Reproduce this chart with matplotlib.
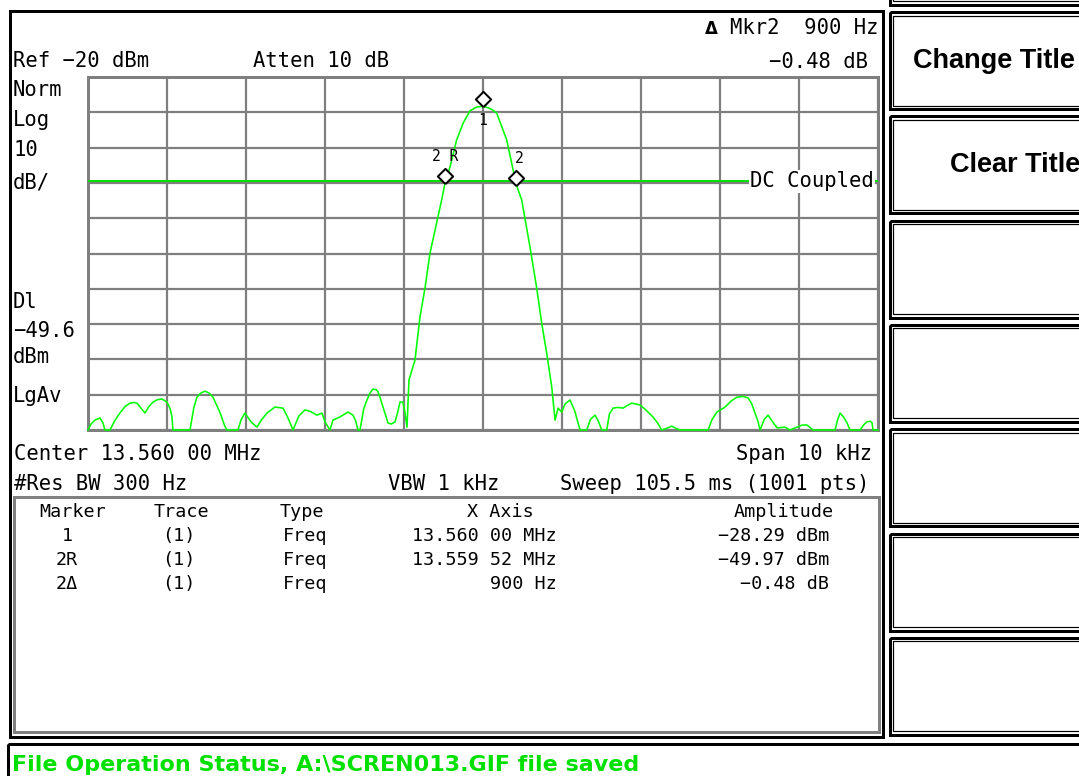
import numpy as np
import matplotlib
matplotlib.use('Agg')
import matplotlib.pyplot as plt
from matplotlib.patches import Rectangle
from matplotlib import transforms

# swept trace: offset from centre (Hz) and level (dBm)
freq_offset = [-5000, -4962, -4912, -4849, -4811, -4785, -4722, -4660, -4596, -4530,
               -4469, -4420, -4380, -4330, -4279, -4230, -4178, -4120, -4064, -4000,
               -3960, -3937, -3925, -3709, -3660, -3621, -3570, -3519, -3470, -3418,
               -3330, -3270, -3241, -3102, -3060, -3013, -2940, -2861, -2800, -2735,
               -2633, -2532, -2470, -2405, -2330, -2253, -2180, -2102, -2038, -2000,
               -1937, -1899, -1810, -1709, -1646, -1610, -1582, -1557, -1510, -1469,
               -1430, -1393, -1350, -1329, -1300, -1266, -1230, -1203, -1160, -1114,
               -1080, -1051, -1013, -987, -962, -937, -861, -798, -734, -671,
               -523, -480, -418, -333, -250, -165, -80, 0, 63, 120,
               173, 300, 420, 490, 595, 680, 743, 806, 870, 912,
               950, 996, 1040, 1101, 1160, 1228, 1313, 1360, 1418, 1460,
               1503, 1566, 1600, 1646, 1710, 1772, 1830, 1883, 1988, 2070,
               2152, 2210, 2262, 2330, 2389, 2440, 2494, 2849, 2900, 2962,
               3064, 3140, 3216, 3290, 3355, 3400, 3444, 3480, 3507, 3560,
               3608, 3660, 3722, 3823, 3887, 3975, 4040, 4102, 4178, 4456,
               4490, 4520, 4570, 4608, 4646, 4773, 4820, 4861, 4900, 4925,
               4937, 5000]
level = [-120, -118.3, -117.2, -116.6, -118.0, -120, -120, -117.3, -115.2, -113.3,
         -112.4, -112.2, -112.4, -113.8, -115.2, -113.4, -112.1, -111.4, -111.2, -112.1,
         -114.0, -116.3, -120, -120, -113.6, -110.7, -109.5, -109.0, -109.5, -110.7,
         -115.0, -118.8, -120, -120, -117.0, -115.2, -117.6, -119.2, -117.0, -115.2,
         -113.5, -113.8, -116.5, -120, -116.0, -114.3, -114.8, -115.8, -115.2, -117.7,
         -120, -117.2, -116.3, -114.9, -115.8, -117.5, -120, -120, -114.0, -111.5,
         -109.5, -108.4, -108.6, -109.2, -111.0, -113.5, -116.0, -118.0, -118.3, -117.7,
         -115.0, -112.1, -112.1, -115.2, -119.2, -105.8, -100.2, -88.0, -79.8, -69.9,
         -54.8, -50.0, -45.5, -37.8, -33.0, -29.6, -28.5, -28.3, -28.7, -29.3,
         -30.2, -37.8, -50.45, -54.8, -68.2, -79.8, -89.7, -98.2, -107.8, -117.2,
         -113.8, -114.9, -112.6, -111.5, -114.5, -120, -120, -117.0, -115.8, -117.5,
         -120, -120, -115.5, -113.8, -113.6, -113.8, -113.0, -112.4, -112.9, -114.5,
         -116.3, -118.0, -120, -119.5, -118.9, -119.5, -120, -120, -117.0, -114.9,
         -113.5, -111.8, -110.7, -110.5, -110.9, -112.5, -115.2, -117.5, -120, -117.0,
         -115.8, -117.5, -119.4, -119.2, -120, -119.2, -118.6, -118.6, -120, -120,
         -117.0, -115.2, -116.5, -118.0, -120, -120, -118.5, -117.7, -117.5, -118.0,
         -120, -120]

span_hz = 10000
ref_level = -20
db_per_div = 10
display_line = -49.6

marker_names = ['1', '2 R', '2']
marker_freq = [0, -480, 420]
marker_level = [-28.29, -49.97, -50.45]

table_header = ['Marker', 'Trace', 'Type', 'X Axis', 'Amplitude']
table_marker = ['1', '2R', '2\u0394']
table_trace = ['(1)', '(1)', '(1)']
table_type = ['Freq', 'Freq', 'Freq']
table_x = ['13.560 00 MHz', '13.559 52 MHz', '900 Hz']
table_amp = ['\u221228.29 dBm', '\u221249.97 dBm', '\u22120.48 dB']

softkeys = ['', 'Change Title', 'Clear Title', '', '', '', '', '']

W, H = 1079, 776
fig = plt.figure(figsize=(W / 100, H / 100), dpi=100)
fig.patch.set_facecolor('white')

# pixel-space layer for frames and annotation text
ov = fig.add_axes([0, 0, 1, 1])
ov.set_xlim(0, W)
ov.set_ylim(H, 0)
ov.axis('off')

mono = 'DejaVu Sans Mono'
big = 14.8
small = 13.2
px = 0.72  # points per pixel at 100 dpi

# outer frames
ov.add_patch(Rectangle((9.5, 11), 873, 726, fill=False, ec='black', lw=3 * px))
ov.add_patch(Rectangle((13.5, 496.5), 865, 235, fill=False, ec='#808080', lw=3 * px))
ov.add_patch(Rectangle((7.5, 743.5), 1100, 60, fill=False, ec='black', lw=3 * px))

# softkey column
for i, label in enumerate(softkeys):
    top = 12 + 104.3 * (i - 1)
    ov.add_patch(Rectangle((889.5, top), 260, 97, fill=False, ec='black', lw=3 * px))
    ov.add_patch(Rectangle((893, top + 3.5), 252, 90, fill=False, ec='black', lw=1.2 * px))
softkey_x = {'Change Title': 994, 'Clear Title': 1015}
for i, label in enumerate(softkeys):
    if label:
        top = 12 + 104.3 * (i - 1)
        ov.text(softkey_x[label], top + 49, label, ha='center', va='center',
                fontsize=19.5, fontweight='bold', family='Liberation Sans')

def t(x, y, s, ha='left', size=big, **kw):
    ov.text(x, y, s, ha=ha, va='baseline', fontsize=size, family=mono, **kw)

# header lines
t(13, 67, 'Ref \u221220 dBm')
t(253, 67, 'Atten 10 dB')
ov.text(711, 34, '\u0394', ha='center', va='baseline', fontsize=12, fontweight='bold',
        family='DejaVu Sans')
t(878, 34, 'Mkr2  900 Hz', ha='right')
t(868, 68, '\u22120.48 dB', ha='right')

# left annotation column
for y, s in [(96, 'Norm'), (126, 'Log'), (156, '10'), (188, 'dB/'),
             (308, 'Dl'), (337, '\u221249.6'), (363, 'dBm'), (402, 'LgAv')]:
    t(13, y, s)

t(14, 460, 'Center 13.560 00 MHz')
t(872, 460, 'Span 10 kHz', ha='right')
t(14, 490, '#Res BW 300 Hz')
t(388, 490, 'VBW 1 kHz')
t(869, 490, 'Sweep 105.5 ms (1001 pts)', ha='right')

# marker table
t(73, 517, table_header[0], ha='center', size=small)
t(181, 517, table_header[1], ha='center', size=small)
t(302, 517, table_header[2], ha='center', size=small)
t(500, 517, table_header[3], ha='center', size=small)
t(784, 517, table_header[4], ha='center', size=small)
for row, yb in enumerate([541, 565, 589]):
    t(67, yb, table_marker[row], ha='center', size=small)
    t(179, yb, table_trace[row], ha='center', size=small)
    t(305, yb, table_type[row], ha='center', size=small)
    t(557, yb, table_x[row], ha='right', size=small)
    t(829, yb, table_amp[row], ha='right', size=small)

ov.text(12, 771, 'File Operation Status, A:\\SCREN013.GIF file saved', ha='left',
        va='baseline', fontsize=16, fontweight='bold', family='DejaVu Sans',
        color='#00e000')

# graticule
ax = fig.add_axes([88 / W, 1 - 430 / H, 790 / W, 353 / H])
ax.set_facecolor('none')
ax.set_xlim(-span_hz / 2, span_hz / 2)
ax.set_ylim(ref_level - 10 * db_per_div, ref_level)
ax.set_xticks(np.linspace(-span_hz / 2, span_hz / 2, 11))
ax.set_yticks(np.arange(ref_level - 10 * db_per_div, ref_level + 1, db_per_div))
ax.tick_params(length=0, labelbottom=False, labelleft=False)
ax.grid(True, color='#7f7f7f', lw=2.2 * px)
for sp in ax.spines.values():
    sp.set_color('#7f7f7f')
    sp.set_linewidth(3 * px)

ax.axhline(display_line, color='#00e000', lw=2 * px, zorder=3)
ax.plot(freq_offset, level, color='#00ff00', lw=1.6 * px, zorder=4, clip_on=False)

ax.text(0.995, (display_line - ax.get_ylim()[0]) / (10 * db_per_div), 'DC Coupled',
        transform=ax.transAxes, ha='right', va='center', fontsize=big, family=mono,
        bbox=dict(facecolor='white', edgecolor='none', pad=1), zorder=5)

# marker diamonds sit on top of the trace point
diamond = [(0, -1), (1, 0), (0, 1), (-1, 0), (0, -1)]
lifted = transforms.offset_copy(ax.transData, fig=fig, y=5, units='points')
ax.plot(marker_freq, marker_level, ls='none', marker=diamond, ms=11, mfc='white',
        mec='black', mew=2 * px, transform=lifted, zorder=6, clip_on=False)
label_offsets = [(0, -10), (0, 19), (2, 19)]
for name, f, a, off in zip(marker_names, marker_freq, marker_level, label_offsets):
    ax.annotate(name, (f, a), xytext=off, textcoords='offset points', ha='center',
                va='center', fontsize=10.5, family=mono, zorder=6)

fig.savefig('out.png', dpi=100, facecolor='white')
